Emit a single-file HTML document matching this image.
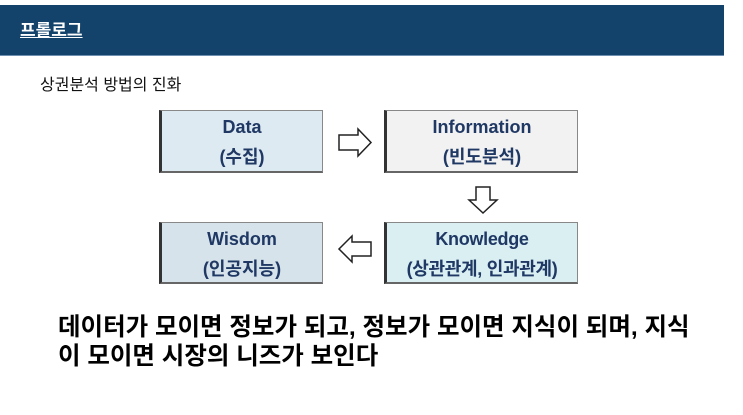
<!DOCTYPE html>
<html><head><meta charset="utf-8"><style>
body{margin:0;width:743px;height:415px;background:#fff;position:relative;overflow:hidden;font-family:"Liberation Sans","Noto Sans CJK KR",sans-serif;}
.bar{position:absolute;left:0;top:5px;width:724px;height:50px;background:#13426b;border-bottom:1px solid #6f8fb0;}
.title{position:absolute;left:20px;top:16px;color:#fff;font-weight:bold;font-size:17px;text-decoration:underline;}
.sub{position:absolute;left:40px;top:71px;font-size:16px;color:#111;}
.box{position:absolute;box-sizing:border-box;border:1px solid #888;border-left:3px solid #333;border-bottom:2px solid #666;color:#1f3864;font-weight:bold;font-size:18px;text-align:center;line-height:30px;padding-top:1px;white-space:nowrap;}
.main{position:absolute;left:58px;top:313px;font-size:24.5px;font-weight:bold;line-height:29px;color:#000;white-space:nowrap;}
</style></head><body>
<div class="bar"></div><div class="title">프롤로그</div>
<div class="sub">상권분석 방법의 진화</div>
<div class="box" style="left:159px;top:110px;width:164px;height:63px;background:#deeaf1;">Data<br>(수집)</div>
<div class="box" style="left:384px;top:110px;width:194px;height:63px;background:#f2f2f2;">Information<br>(빈도분석)</div>
<div class="box" style="left:159px;top:222px;width:164px;height:62px;background:#d6e3ea;">Wisdom<br>(인공지능)</div>
<div class="box" style="left:384px;top:222px;width:194px;height:62px;background:#d9eff2;letter-spacing:-0.3px;">Knowledge<br>(상관관계, 인과관계)</div>
<svg style="position:absolute;left:0;top:0" width="743" height="415">
<polygon points="339,135 358,135 358,129 371,142.5 358,156 358,150 339,150" fill="#fff" stroke="#222" stroke-width="1.5"/>
<polygon points="476,187 490,187 490,200 497,200 483,213 469,200 476,200" fill="#fff" stroke="#222" stroke-width="1.5"/>
<polygon points="371,242 352,242 352,236 339,249 352,262 352,256 371,256" fill="#fff" stroke="#222" stroke-width="1.5"/>
</svg>
<div class="main">데이터가 모이면 정보가 되고, 정보가 모이면 지식이 되며, 지식<br>이 모이면 시장의 니즈가 보인다</div>
</body></html>
